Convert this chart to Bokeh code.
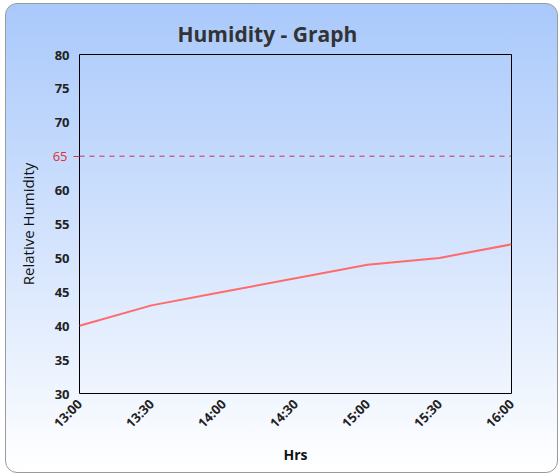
import math
from bokeh.plotting import figure
from bokeh.models import Range1d, FixedTicker, Span, LinearAxis, ColumnDataSource
from bokeh.embed import file_html
from bokeh.resources import INLINE

times = ["13:00", "13:30", "14:00", "14:30", "15:00", "15:30", "16:00"]
humidity = [40, 43, 45, 47, 49, 50, 52]
threshold = 65
y_ticks = [30, 35, 40, 45, 50, 55, 60, 65, 70, 75, 80]

xs = list(range(len(times)))
src = ColumnDataSource(dict(x=xs, y=humidity))

p = figure(width=553, height=470, output_backend="svg", toolbar_location=None,
           x_range=Range1d(0, len(times) - 1), y_range=Range1d(30, 80),
           min_border_left=73, min_border_right=48, min_border_top=50, min_border_bottom=81,
           title="Humidity - Graph")
p.styles = {"background": "linear-gradient(to bottom, #a9c9fb 0%, #d3e3fd 50%, #ffffff 100%)",
            "border": "1px solid #9a9a9a", "border-radius": "12px",
            "margin-left": "5px", "margin-top": "3px", "box-sizing": "border-box"}
p.background_fill_color = None
p.border_fill_color = None
p.outline_line_color = "black"
p.outline_line_width = 1
p.grid.visible = False

font = "Open Sans"
p.title.align = "left"
p.title.offset = 98
p.title.standoff = 14
p.title.text_font = font
p.title.text_font_size = "21px"
p.title.text_font_style = "bold"
p.title.text_color = "#333333"

main_y = p.left[0]
tick_axis = LinearAxis(ticker=FixedTicker(ticks=[threshold]))
red_axis = LinearAxis(ticker=FixedTicker(ticks=[threshold]))
# order from the frame outwards: red tick, value labels, red "65" + axis title
p.left = [tick_axis, main_y, red_axis]

for ax in (p.xaxis[0], main_y, red_axis, tick_axis):
    ax.axis_line_color = None
    ax.major_tick_line_color = None
    ax.minor_tick_line_color = None
    ax.major_tick_out = 0
    ax.major_tick_in = 0
    ax.major_label_text_font = font
    ax.major_label_text_font_size = "13px"
    ax.major_label_text_color = "#222222"
    ax.major_label_text_font_style = "bold"
    ax.axis_label_text_font = font
    ax.axis_label_text_font_size = "15px"
    ax.axis_label_text_font_style = "normal"
    ax.axis_label_text_color = "#111111"

p.xaxis.ticker = FixedTicker(ticks=xs)
p.xaxis.major_label_overrides = {i: t for i, t in enumerate(times)}
p.xaxis.major_label_orientation = math.pi / 4
p.xaxis.major_label_standoff = 8
p.xaxis.axis_label = "Hrs"
p.xaxis.axis_label_standoff = 4
p.xaxis.axis_label_text_font_style = "bold"
p.xaxis.axis_label_text_font_size = "14px"

tick_axis.major_tick_out = 6
tick_axis.major_tick_line_color = "#cc3344"
tick_axis.major_label_standoff = 0
tick_axis.major_label_overrides = {threshold: ""}

main_y.ticker = FixedTicker(ticks=y_ticks)
main_y.major_label_overrides = {threshold: " "}
main_y.major_label_standoff = 4

red_axis.major_label_text_color = "#e03030"
red_axis.major_label_text_font_style = "normal"
red_axis.major_label_standoff = -16
red_axis.axis_label = "Relative Humidity"
red_axis.axis_label_standoff = 12

p.line("x", "y", source=src, line_color="#ff6b6b", line_width=2)
p.add_layout(Span(location=threshold, dimension="width", line_color="#cc3344",
                  line_dash="5 5", line_width=1))

open("out.html", "w").write(file_html(p, INLINE))
